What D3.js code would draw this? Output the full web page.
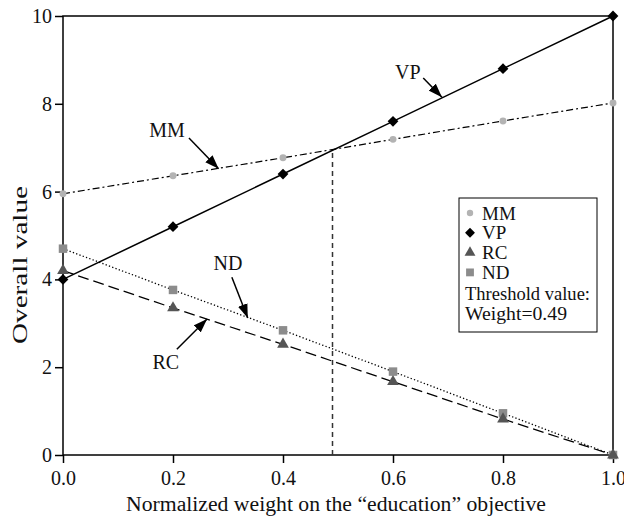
<!DOCTYPE html>
<html>
<head>
<meta charset="utf-8">
<script src="https://cdn.jsdelivr.net/npm/d3@7"></script>
<style>
  body { margin: 0; background: #fff; }
  svg text { font-family: "Times New Roman", Times, "Liberation Serif", "Nimbus Roman", "DejaVu Serif", serif; fill: #111; }
</style>
</head>
<body>
<svg width="624" height="516"></svg>
<script>
// weights on the x axis
const weights = [0.0, 0.2, 0.4, 0.6, 0.8, 1.0];

// overall value per alternative
const mmValues = [5.95, 6.36, 6.77, 7.19, 7.61, 8.02];
const vpValues = [4.0, 5.2, 6.4, 7.6, 8.8, 10.0];
const rcValues = [4.2, 3.35, 2.52, 1.67, 0.82, 0.0];
const ndValues = [4.7, 3.76, 2.84, 1.9, 0.95, 0.0];

const xTicks = [0.0, 0.2, 0.4, 0.6, 0.8, 1.0];
const yTicks = [0, 2, 4, 6, 8, 10];

const threshold = 0.49;
const thresholdValue = 6.95;

// callout labels: text position, arrow start, arrow tip (data units)
const callouts = [
  { name: 'MM', text: [0.189, 7.40], from: [0.229, 7.22], to: [0.283, 6.52] },
  { name: 'VP', text: [0.627, 8.72], from: [0.655, 8.59], to: [0.689, 8.15] },
  { name: 'ND', text: [0.300, 4.37], from: [0.307, 4.05], to: [0.336, 3.12] },
  { name: 'RC', text: [0.187, 2.12], from: [0.207, 2.41], to: [0.262, 3.10] }
];

const legendItems = ['MM', 'VP', 'RC', 'ND'];

const FONT = '"Times New Roman", Times, "Liberation Serif", serif';

const svg = d3.select('svg');
const margin = { top: 16, right: 11, bottom: 61, left: 63 };
const width = +svg.attr('width');
const height = +svg.attr('height');
const innerWidth = width - margin.left - margin.right;
const innerHeight = height - margin.top - margin.bottom;

const x = d3.scaleLinear().domain([0, 1]).range([0, innerWidth]);
const y = d3.scaleLinear().domain([0, 10]).range([innerHeight, 0]);

svg.append('defs').append('marker')
  .attr('id', 'head')
  .attr('markerUnits', 'userSpaceOnUse')
  .attr('viewBox', '0 0 14 10')
  .attr('refX', 14).attr('refY', 5)
  .attr('markerWidth', 14).attr('markerHeight', 11)
  .attr('orient', 'auto')
  .append('path')
  .attr('d', 'M0,0 L14,5 L0,10 Z')
  .style('fill', '#000');

const g = svg.append('g')
  .attr('transform', `translate(${margin.left}, ${margin.top})`);

// axes
const xAxis = g.append('g')
  .attr('transform', `translate(0, ${innerHeight})`)
  .call(d3.axisBottom(x).tickValues(xTicks).tickFormat(d3.format('.1f')).tickSize(8).tickPadding(8));

const yAxis = g.append('g')
  .call(d3.axisLeft(y).tickValues(yTicks).tickFormat(d3.format('d')).tickSize(8).tickPadding(3));

[xAxis, yAxis].forEach(a => {
  a.attr('font-family', FONT).attr('font-size', 20);
  a.select('.domain').remove();
  a.selectAll('line').style('stroke', '#000').style('stroke-width', 1.5);
  a.selectAll('text').style('fill', '#111');
});

// frame
g.append('rect')
  .attr('width', innerWidth).attr('height', innerHeight)
  .style('fill', 'none').style('stroke', '#000').style('stroke-width', 1.5);

// threshold line
g.append('line')
  .attr('x1', x(threshold)).attr('x2', x(threshold))
  .attr('y1', y(0)).attr('y2', y(thresholdValue))
  .style('stroke', '#333').style('stroke-width', 1.5).style('stroke-dasharray', '5,4');

const series = [
  { name: 'MM', values: mmValues, dash: '7,3,2,3', width: 1.2 },
  { name: 'ND', values: ndValues, dash: '1.3,2.2', width: 1.3 },
  { name: 'RC', values: rcValues, dash: '11,5', width: 1.3 },
  { name: 'VP', values: vpValues, dash: null, width: 1.5 }
];

const line = d3.line().x(d => x(d[0])).y(d => y(d[1]));

g.selectAll('path.series')
  .data(series)
  .join('path')
  .attr('class', 'series')
  .attr('d', s => line(weights.map((w, i) => [w, s.values[i]])))
  .style('fill', 'none')
  .style('stroke', '#000')
  .style('stroke-width', s => s.width)
  .style('stroke-dasharray', s => s.dash);

const symbols = {
  MM: { type: d3.symbolCircle, size: 38, color: '#b3b3b3', rot: 0 },
  VP: { type: d3.symbolSquare, size: 58, color: '#000', rot: 45 },
  RC: { type: d3.symbolTriangle, size: 60, color: '#555', rot: 0 },
  ND: { type: d3.symbolSquare, size: 72, color: '#8c8c8c', rot: 0 }
};

const pointSeries = [
  { name: 'MM', values: mmValues },
  { name: 'ND', values: ndValues },
  { name: 'RC', values: rcValues },
  { name: 'VP', values: vpValues }
];

pointSeries.forEach(s => {
  const sym = symbols[s.name];
  g.selectAll(`path.pt-${s.name}`)
    .data(weights.map((w, i) => [w, s.values[i]]))
    .join('path')
    .attr('class', `pt-${s.name}`)
    .attr('transform', d => `translate(${x(d[0])}, ${y(d[1])}) rotate(${sym.rot})`)
    .attr('d', d3.symbol().type(sym.type).size(sym.size))
    .style('fill', sym.color);
});

// callouts
g.selectAll('line.callout')
  .data(callouts)
  .join('line')
  .attr('class', 'callout')
  .attr('x1', d => x(d.from[0])).attr('y1', d => y(d.from[1]))
  .attr('x2', d => x(d.to[0])).attr('y2', d => y(d.to[1]))
  .style('stroke', '#000').style('stroke-width', 1.5)
  .attr('marker-end', 'url(#head)');

g.selectAll('text.callout')
  .data(callouts)
  .join('text')
  .attr('class', 'callout')
  .attr('x', d => x(d.text[0])).attr('y', d => y(d.text[1]))
  .attr('dy', '0.35em')
  .attr('text-anchor', 'middle')
  .style('font-size', '20px')
  .text(d => d.name);

// legend
const legend = svg.append('g').attr('transform', 'translate(459, 198)');
legend.append('rect')
  .attr('width', 138).attr('height', 134)
  .style('fill', '#fff').style('stroke', '#000').style('stroke-width', 1);

legendItems.forEach((name, i) => {
  const sym = symbols[name];
  const cy = 15 + i * 19.8;
  legend.append('path')
    .attr('transform', `translate(11, ${cy}) rotate(${sym.rot})`)
    .attr('d', d3.symbol().type(sym.type).size(sym.size * 0.85))
    .style('fill', sym.color);
  legend.append('text')
    .attr('x', 23).attr('y', cy).attr('dy', '0.35em')
    .style('font-size', '19px')
    .text(name);
});

legend.append('text')
  .attr('x', 6).attr('y', 95).attr('dy', '0.35em')
  .attr('textLength', 125).attr('lengthAdjust', 'spacingAndGlyphs')
  .style('font-size', '19px')
  .text('Threshold value:');
legend.append('text')
  .attr('x', 6).attr('y', 115).attr('dy', '0.35em')
  .attr('textLength', 102).attr('lengthAdjust', 'spacingAndGlyphs')
  .style('font-size', '19px')
  .text('Weight=0.49');

// axis titles
svg.append('text')
  .attr('x', margin.left + innerWidth / 2 - 2).attr('y', 511)
  .attr('text-anchor', 'middle')
  .attr('textLength', 420).attr('lengthAdjust', 'spacingAndGlyphs')
  .style('font-size', '20px')
  .text('Normalized weight on the \u201Ceducation\u201D objective');

svg.append('text')
  .attr('transform', 'translate(27, 265) rotate(-90)')
  .attr('text-anchor', 'middle')
  .attr('textLength', 158).attr('lengthAdjust', 'spacingAndGlyphs')
  .style('font-size', '21px')
  .text('Overall value');
</script>
</body>
</html>
